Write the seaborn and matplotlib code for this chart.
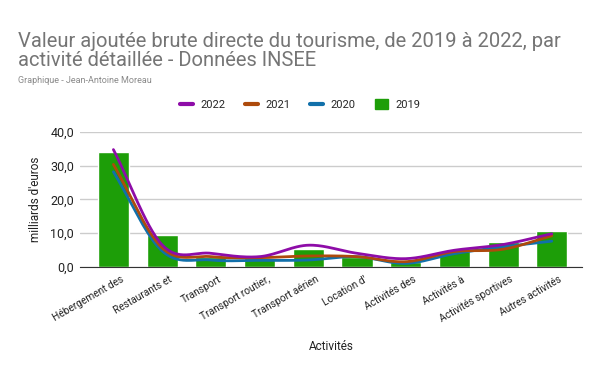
import numpy as np
import pandas as pd
import seaborn as sns
import matplotlib
matplotlib.use("Agg")
import matplotlib.pyplot as plt
import matplotlib.transforms as mtrans
from matplotlib.lines import Line2D
from matplotlib.patches import Patch

sns.set_style("white")
plt.rcParams['font.family'] = ['Roboto', 'DejaVu Sans']

# donnees (milliards d'euros)
activites = ["Hébergement des", "Restaurants et", "Transport", "Transport routier,",
             "Transport aérien", "Location d'", "Activités des", "Activités à",
             "Activités sportives", "Autres activités"]
v2019 = [34.1, 9.3, 2.8, 2.5, 5.2, 3.0, 1.5, 4.7, 7.4, 10.5]
v2020 = [28.2, 4.7, 2.0, 1.9, 2.0, 3.0, 1.0, 3.9, 5.9, 7.6]
v2021 = [30.4, 5.6, 3.0, 2.7, 3.2, 3.0, 1.5, 4.5, 5.2, 9.2]
v2022 = [34.8, 6.5, 4.0, 3.0, 6.4, 4.0, 2.4, 4.9, 6.6, 9.8]

couleurs = {"2022": "#8e0ca8", "2021": "#ad4a0c", "2020": "#1170aa", "2019": "#1d9e08"}


def lisser(y, n=30):
    # spline de Catmull-Rom passant par les points
    y = np.asarray(y, dtype=float)
    m = np.zeros_like(y)
    m[1:-1] = (y[2:] - y[:-2]) / 2
    m[0] = y[1] - y[0]
    m[-1] = y[-1] - y[-2]
    xs, ys = [], []
    for i in range(len(y) - 1):
        t = np.linspace(0, 1, n, endpoint=False)
        h00 = 2 * t**3 - 3 * t**2 + 1
        h10 = t**3 - 2 * t**2 + t
        h01 = -2 * t**3 + 3 * t**2
        h11 = t**3 - t**2
        xs.append(i + t)
        ys.append(h00 * y[i] + h10 * m[i] + h01 * y[i + 1] + h11 * m[i + 1])
    xs.append([len(y) - 1])
    ys.append([y[-1]])
    return np.concatenate(xs), np.concatenate(ys)


fig = plt.figure(figsize=(6, 3.71), dpi=100)
ax = fig.add_axes([0.133, 0.281, 0.837, 0.363])

df = pd.DataFrame({"pos": np.arange(len(activites)), "v": v2019})
sns.barplot(data=df, x="pos", y="v", color=couleurs["2019"], width=0.64,
            saturation=1, native_scale=True, ax=ax, zorder=2)

for an, vals in [("2020", v2020), ("2021", v2021), ("2022", v2022)]:
    xs, ys = lisser(vals)
    sns.lineplot(x=xs, y=ys, color=couleurs[an], lw=2, ax=ax, zorder=3,
                 estimator=None, sort=False)

ax.set_xlim(-0.69, 9.62)
ax.set_ylim(0, 40)
ax.set_yticks([0, 10, 20, 30, 40])
ax.set_yticklabels(["0,0", "10,0", "20,0", "30,0", "40,0"], fontsize=9, color="#222222")
ax.yaxis.grid(True, color="#cccccc", lw=1, zorder=0)
ax.set_axisbelow(True)
for s in ["top", "right", "left"]:
    ax.spines[s].set_visible(False)
ax.spines["bottom"].set_color("#333333")
ax.tick_params(axis="both", length=0, pad=4)

ax.set_xticks(np.arange(len(activites)))
ax.set_xticklabels(activites, rotation=30, ha="right", rotation_mode="anchor",
                   fontsize=7.3, color="#222222")
decal = mtrans.ScaledTranslation(0.07, -0.02, fig.dpi_scale_trans)
for lab in ax.get_xticklabels():
    lab.set_transform(lab.get_transform() + decal)
ax.set_xlabel("Activités", fontsize=8.5, color="#222222", labelpad=11)
ax.set_ylabel("milliards d'euros", fontsize=8.5, color="#222222", labelpad=6)

fig.text(0.03, 0.915, "Valeur ajoutée brute directe du tourisme, de 2019 à 2022, par\nactivité détaillée - Données INSEE",
         fontsize=14.5, color="#757575", va="top", linespacing=1.05)
fig.text(0.03, 0.782, "Graphique - Jean-Antoine Moreau", fontsize=6.5, color="#8a8a8a", va="center")

poignees = [Line2D([], [], color=couleurs["2022"], lw=3),
            Line2D([], [], color=couleurs["2021"], lw=3),
            Line2D([], [], color=couleurs["2020"], lw=3),
            Patch(color=couleurs["2019"])]
fig.legend(poignees, ["2022", "2021", "2020", "2019"], loc="center", bbox_to_anchor=(0.5, 0.718),
           ncol=4, frameon=False, fontsize=8, handlelength=1.2, handleheight=1.0,
           columnspacing=1.8, handletextpad=0.6)

fig.savefig("out.png", dpi=100)
